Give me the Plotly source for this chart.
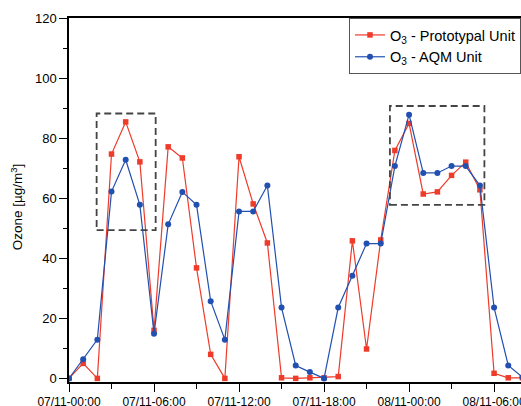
import plotly.graph_objects as go
import pandas as pd

# hourly timestamps, 07/11 00:00 -> 08/11 08:00
times = pd.date_range("2019-11-07 00:00", periods=33, freq="h")

proto_o3 = [0, 5.0, 0, 74.7, 85.4, 72.1, 16.0, 77.1, 73.4, 36.8, 8.0, 0, 73.8,
            58.1, 45.1, 0.2, 0, 0.2, 0.2, 0.6, 45.8, 9.8, 46.1, 75.9, 84.9,
            61.4, 62.1, 67.6, 72.0, 62.8, 1.7, 0.2, 0.2]
aqm_o3 = [0, 6.4, 12.9, 62.2, 72.8, 57.8, 14.9, 51.3, 62.1, 57.8, 25.7, 12.9, 55.6,
          55.6, 64.2, 23.6, 4.3, 2.1, 0, 23.6, 34.2, 44.9, 44.9, 70.7, 87.8,
          68.4, 68.4, 70.7, 70.7, 64.2, 23.6, 4.3, 0.4]

# highlighted regions (data coordinates)
box_x0 = ["2019-11-07 01:57", "2019-11-07 22:39"]
box_x1 = ["2019-11-07 06:07", "2019-11-08 05:19"]
box_y0 = [49.4, 57.8]
box_y1 = [88.2, 90.7]

RED = "#EE3B2A"
BLUE = "#2150B0"
FONT = "Arial, Liberation Sans, sans-serif"

fig = go.Figure()
fig.add_trace(go.Scatter(
    x=times, y=proto_o3, mode="lines+markers",
    name="O<sub>3</sub> - Prototypal Unit",
    line=dict(color=RED, width=1.2),
    marker=dict(symbol="square", size=5.5, color=RED),
))
fig.add_trace(go.Scatter(
    x=times, y=aqm_o3, mode="lines+markers",
    name="O<sub>3</sub> - AQM Unit",
    line=dict(color=BLUE, width=1.2),
    marker=dict(symbol="circle", size=6, color=BLUE),
))

for x0, x1, y0, y1 in zip(box_x0, box_x1, box_y0, box_y1):
    fig.add_shape(type="rect", xref="x", yref="y", x0=x0, x1=x1, y0=y0, y1=y1,
                  line=dict(color="#444444", width=1.8, dash="7px,4px"),
                  fillcolor="rgba(0,0,0,0)", layer="above")

fig.add_annotation(
    text="Ozone [µg/m<sup>3</sup>]", textangle=-90,
    xref="paper", yref="paper", x=-0.115, y=0.48,
    showarrow=False, font=dict(family=FONT, size=13.5, color="black"),
    xanchor="center", yanchor="middle",
)

fig.update_layout(
    width=521, height=406,
    margin=dict(l=69, r=0, t=18, b=24, autoexpand=False),
    paper_bgcolor="white", plot_bgcolor="white",
    font=dict(family=FONT, color="black"),
    showlegend=True,
    legend=dict(
        x=1, y=1.0, xanchor="right", yanchor="top",
        bgcolor="white", bordercolor="#555555", borderwidth=1,
        font=dict(family=FONT, size=14.5, color="black"),
        itemwidth=30, tracegroupgap=0,
    ),
    xaxis=dict(
        type="date",
        range=["2019-11-07 00:00", "2019-11-08 07:54"],
        tickformat="%d/%m-%H:%M",
        dtick=6 * 3600000, tick0="2019-11-07 00:00",
        showgrid=False, zeroline=False,
        showline=True, linecolor="black", linewidth=1.5, mirror=True,
        ticks="outside", ticklen=8, tickwidth=1.3, tickcolor="black",
        minor=dict(dtick=3 * 3600000, ticks="outside", ticklen=5, tickcolor="black", tickwidth=1.3),
        tickfont=dict(family=FONT, size=12, color="black"),
        ticklabeloverflow="allow",
        automargin=False,
    ),
    yaxis=dict(
        range=[-1.2, 120],
        tickvals=[0, 20, 40, 60, 80, 100, 120],
        showgrid=False, zeroline=False,
        showline=True, linecolor="black", linewidth=1.5,
        ticks="outside", ticklen=8, tickwidth=1.3, tickcolor="black",
        minor=dict(tickvals=[10, 30, 50, 70, 90, 110], ticks="outside", ticklen=4, tickcolor="black", tickwidth=1.3),
        tickfont=dict(family=FONT, size=13, color="black"),
        automargin=False,
    ),
)

fig.write_html("out.html",
               config={"displayModeBar": False},
               post_script="document.body.style.margin='0';document.body.style.overflow='hidden';")
